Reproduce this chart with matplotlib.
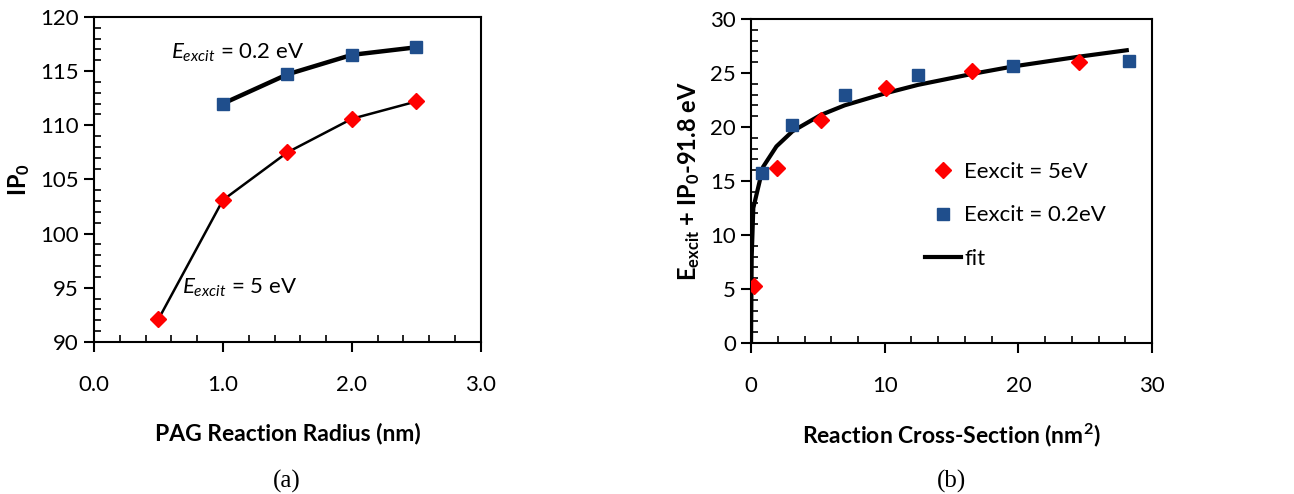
import matplotlib.pyplot as plt
from matplotlib.ticker import MultipleLocator, FormatStrFormatter

plt.rcParams['font.family'] = ['Lato', 'DejaVu Sans']
plt.rcParams['mathtext.fontset'] = 'custom'
plt.rcParams['mathtext.rm'] = 'Lato'
plt.rcParams['mathtext.it'] = 'Lato:italic'
plt.rcParams['mathtext.bf'] = 'Lato:bold'

RED = '#ff0000'
BLUE = '#1f4e8c'

# (a) IP0 vs PAG reaction radius
radius_5ev = [0.5, 1.0, 1.5, 2.0, 2.5]
ip0_5ev = [92.1, 103.1, 107.5, 110.6, 112.2]
radius_02ev = [1.0, 1.5, 2.0, 2.5]
ip0_02ev = [112.0, 114.7, 116.5, 117.2]

# (b) shifted energy vs reaction cross-section
xs_5ev = [0.25, 1.95, 5.25, 10.1, 16.5, 24.5]
e_5ev = [5.3, 16.2, 20.6, 23.6, 25.2, 26.0]
xs_02ev = [0.8, 3.1, 7.05, 12.5, 19.6, 28.3]
e_02ev = [15.7, 20.2, 23.0, 24.8, 25.6, 26.1]
fit_x = [0.0, 0.05, 0.17, 0.9, 1.9, 3.1, 5.2, 7.0, 10.0, 12.5, 16.5, 19.6, 24.5, 28.1]
fit_y = [0.0, 8.0, 12.5, 16.3, 18.2, 19.6, 21.1, 22.0, 23.1, 23.9, 24.9, 25.6, 26.5, 27.1]

fig = plt.figure(figsize=(12.94, 4.94), dpi=100)
ax1 = fig.add_axes([0.0726, 0.3077, 0.299, 0.658])
ax2 = fig.add_axes([0.5804, 0.3057, 0.310, 0.656])

def style_axes(ax):
    for sp in ax.spines.values():
        sp.set_linewidth(1.5)
    ax.tick_params(which='major', direction='out', length=7, width=1.5, labelsize=16, pad=4)
    ax.tick_params(which='minor', direction='in', length=5, width=1.2)

# panel (a)
ax1.plot(radius_02ev, ip0_02ev, color='black', lw=3.2, zorder=2)
ax1.plot(radius_5ev, ip0_5ev, color='black', lw=1.8, zorder=2)
ax1.plot(radius_02ev, ip0_02ev, 's', color=BLUE, ms=9, zorder=3)
ax1.plot(radius_5ev, ip0_5ev, 'D', color=RED, ms=8, zorder=3)
ax1.set_xlim(0, 3)
ax1.set_ylim(90, 120)
ax1.xaxis.set_major_locator(MultipleLocator(1))
ax1.xaxis.set_minor_locator(MultipleLocator(0.2))
ax1.xaxis.set_major_formatter(FormatStrFormatter('%.1f'))
ax1.yaxis.set_major_locator(MultipleLocator(5))
ax1.yaxis.set_minor_locator(MultipleLocator(1))
style_axes(ax1)
ax1.tick_params(axis='x', which='major', pad=17)
ax1.text(0.6, 116.7, r'$E_{excit}$ = 0.2 eV', fontsize=16, va='center')
ax1.text(0.68, 95.0, r'$E_{excit}$ = 5 eV', fontsize=16, va='center')
ax1.set_xlabel('PAG Reaction Radius (nm)', fontsize=16.5, fontweight='bold', labelpad=20)
ax1.set_ylabel(r'IP$_\mathbf{0}$', fontsize=17, fontweight='bold', labelpad=6)

# panel (b)
ax2.plot(fit_x, fit_y, color='black', lw=3, label='fit', zorder=2)
ax2.plot(xs_5ev, e_5ev, 'D', color=RED, ms=8, ls='none', label='Eexcit = 5eV', zorder=3)
ax2.plot(xs_02ev, e_02ev, 's', color=BLUE, ms=9, ls='none', label='Eexcit = 0.2eV', zorder=3)
ax2.set_xlim(0, 30)
ax2.set_ylim(0, 30)
ax2.xaxis.set_major_locator(MultipleLocator(10))
ax2.xaxis.set_minor_locator(MultipleLocator(2))
ax2.yaxis.set_major_locator(MultipleLocator(5))
ax2.yaxis.set_minor_locator(MultipleLocator(1))
style_axes(ax2)
ax2.tick_params(axis='x', which='major', pad=17)
handles, labels = ax2.get_legend_handles_labels()
order = [1, 2, 0]
ax2.legend([handles[i] for i in order], [labels[i] for i in order],
           loc='upper left', bbox_to_anchor=(0.385, 0.62), frameon=False,
           fontsize=16, handlelength=1.6, handletextpad=0.15, labelspacing=1.05)
ax2.set_xlabel('Reaction Cross-Section (nm$^\\mathbf{2}$)', fontsize=16.5, fontweight='bold', labelpad=18)
ax2.set_ylabel(r'E$_\mathbf{excit}$ + IP$_\mathbf{0}$-91.8 eV', fontsize=17, fontweight='bold', labelpad=6)

fig.text(0.2218, 0.012, '(a)', family='Liberation Serif', fontsize=18, ha='center')
fig.text(0.7357, 0.012, '(b)', family='Liberation Serif', fontsize=18, ha='center')

fig.savefig('out.png', dpi=100)
